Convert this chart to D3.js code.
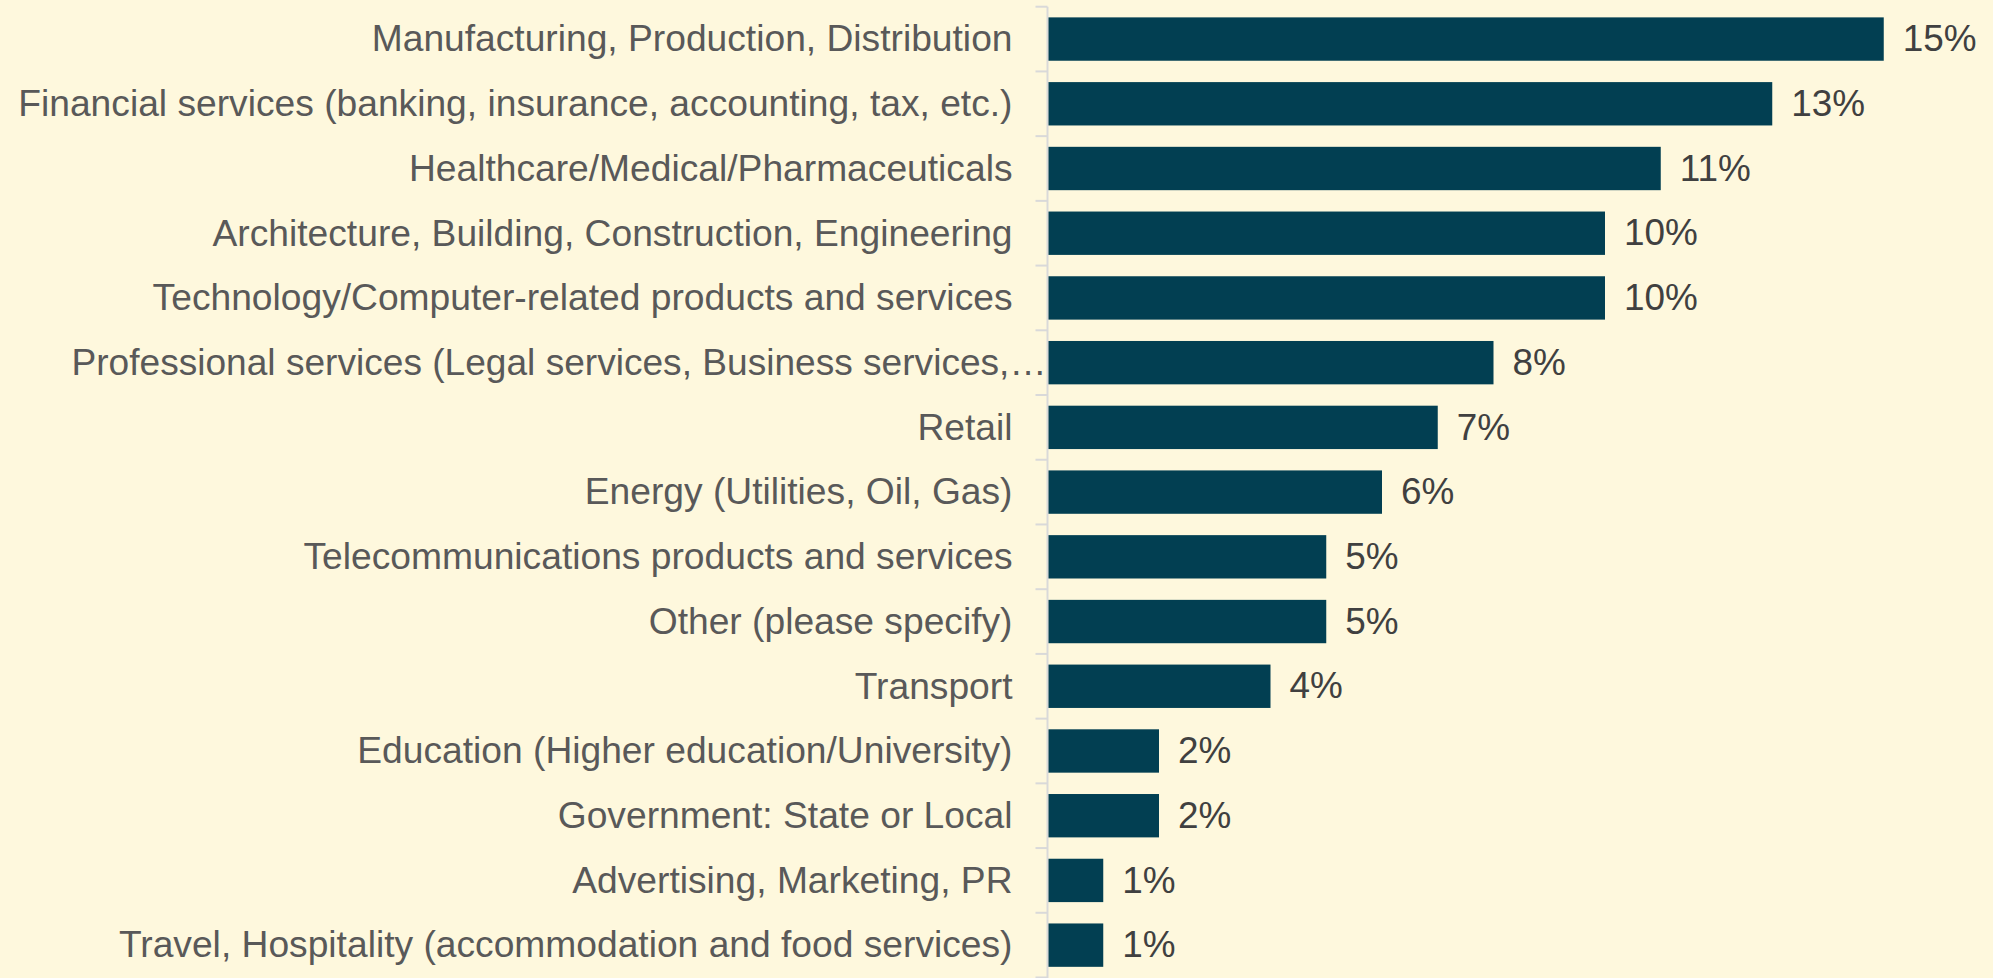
<!DOCTYPE html>
<html>
<head>
<meta charset="utf-8">
<script src="https://cdn.jsdelivr.net/npm/d3@7"></script>
<style>
  html, body { margin: 0; padding: 0; background: #FEF8DD; }
  svg { display: block; }
  text { font-family: "Liberation Sans", Arial, sans-serif; }
</style>
</head>
<body>
<svg id="chart" width="1993" height="978"></svg>
<script>
const categories = [
  "Manufacturing, Production, Distribution",
  "Financial services (banking, insurance, accounting, tax, etc.)",
  "Healthcare/Medical/Pharmaceuticals",
  "Architecture, Building, Construction, Engineering",
  "Technology/Computer-related products and services",
  "Professional services (Legal services, Business services,\u2026",
  "Retail",
  "Energy (Utilities, Oil, Gas)",
  "Telecommunications products and services",
  "Other (please specify)",
  "Transport",
  "Education (Higher education/University)",
  "Government: State or Local",
  "Advertising, Marketing, PR",
  "Travel, Hospitality (accommodation and food services)"
];
const values = [15, 13, 11, 10, 10, 8, 7, 6, 5, 5, 4, 2, 2, 1, 1];
const valueLabels = ["15%", "13%", "11%", "10%", "10%", "8%", "7%", "6%", "5%", "5%", "4%", "2%", "2%", "1%", "1%"];

const svg = d3.select("#chart");
const x0 = 1047.5;
const x = d3.scaleLinear().domain([0, 16]).range([x0, x0 + 16 * 55.75]);
const y = d3.scaleBand().domain(categories).range([6.7, 977.5])
  .paddingInner(0.33).paddingOuter(0.165);

const fs = 37.2;

// axis line and boundary ticks
const step = y.step();
const r0 = y.range()[0];
const axisG = svg.append("g");
axisG.append("line")
  .attr("x1", x0).attr("x2", x0)
  .attr("y1", r0).attr("y2", 978)
  .attr("stroke", "#D9D9D9").attr("stroke-width", 2);
axisG.selectAll("line.tick")
  .data(d3.range(categories.length + 1))
  .join("line")
  .attr("class", "tick")
  .attr("x1", x0 - 12).attr("x2", x0)
  .attr("y1", i => r0 + i * step).attr("y2", i => r0 + i * step)
  .attr("stroke", "#D9D9D9").attr("stroke-width", 2);

// bars
svg.append("g").selectAll("rect")
  .data(categories)
  .join("rect")
  .attr("x", x(0) + 1)
  .attr("y", d => y(d))
  .attr("width", (d, i) => x(values[i]) - x(0) - 1)
  .attr("height", y.bandwidth())
  .attr("fill", "#023F52");

// category labels via axis
const yAxis = d3.axisLeft(y).tickSize(0).tickPadding(35);
const yg = svg.append("g").attr("transform", `translate(${x0},0)`).call(yAxis);
yg.select(".domain").remove();
yg.selectAll("text")
  .attr("font-size", fs)
  .attr("fill", "#595959")
  .attr("font-family", "Liberation Sans, Arial, sans-serif")
  .attr("dy", "0.33em");
yg.selectAll("text")
  .filter(d => d.startsWith("Professional"))
  .attr("x", -1)
  .attr("textLength", 975)
  .attr("lengthAdjust", "spacingAndGlyphs");

// value labels
svg.append("g").selectAll("text")
  .data(categories)
  .join("text")
  .attr("x", (d, i) => x(values[i]) + 19)
  .attr("y", d => y(d) + y.bandwidth() / 2)
  .attr("dy", "0.33em")
  .attr("font-size", 36.9)
  .attr("fill", "#404040")
  .text((d, i) => valueLabels[i]);
</script>
</body>
</html>
